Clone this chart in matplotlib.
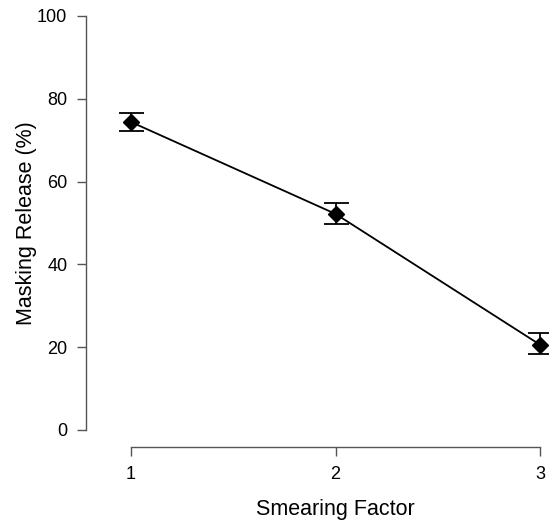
import matplotlib
matplotlib.use("Agg")
import matplotlib.pyplot as plt

# datos
factor = [1, 2, 3]
liberacion = [74.4, 52.2, 20.6]
error_sup = [76.5, 54.8, 23.4]
error_inf = [72.3, 49.7, 18.4]

plt.rcParams['font.family'] = ['Liberation Sans', 'DejaVu Sans']

W, H = 549, 520
fig = plt.figure(figsize=(W / 100, H / 100), dpi=100)

# posicion del area de datos en pixeles (estilo R)
izq, der, arriba, abajo = 86, 549, 8, 447
ax = fig.add_axes([izq / W, 1 - abajo / H, (der - izq) / W, (abajo - arriba) / H])

px_x = (540 - 131) / 2.0
px_y = (430 - 16) / 100.0
ax.set_xlim(1 - (131 - izq) / px_x, 3 + (der - 540) / px_x)
ax.set_ylim(-(abajo - 430) / px_y, 100 + (16 - arriba) / px_y)

yerr = [[l - b for l, b in zip(liberacion, error_inf)],
        [t - l for l, t in zip(liberacion, error_sup)]]
ax.errorbar(factor, liberacion, yerr=yerr, color='black', lw=1.3,
            marker='D', ms=8.5, capsize=9, capthick=1.3, elinewidth=1.3)

gris = '#555555'
for lado in ['top', 'right']:
    ax.spines[lado].set_visible(False)
ax.spines['left'].set_bounds(0, 100)
ax.spines['bottom'].set_bounds(1, 3)
for lado in ['left', 'bottom']:
    ax.spines[lado].set_color(gris)
    ax.spines[lado].set_linewidth(1.0)

ax.set_xticks(factor)
ax.set_yticks([0, 20, 40, 60, 80, 100])
ax.tick_params(axis='both', length=6.5, width=1.0, color=gris, labelsize=13, pad=7)

ax.set_xlabel('Smearing Factor', fontsize=15.5, labelpad=12)
ax.set_ylabel('Masking Release (%)', fontsize=15.5, labelpad=0)

# centrar etiquetas sobre el rango de datos, como en R
cx, cy = ax.transAxes.inverted().transform(ax.transData.transform((2, 50)))
ax.xaxis.label.set_x(cx)
ax.yaxis.label.set_y(cy)

fig.savefig('out.png', dpi=100)
